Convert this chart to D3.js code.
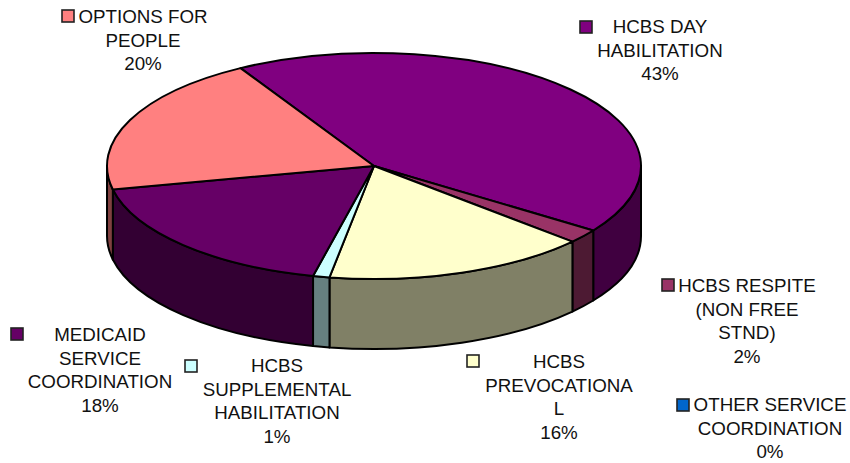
<!DOCTYPE html>
<html>
<head>
<meta charset="utf-8">
<script src="https://cdn.jsdelivr.net/npm/d3@7"></script>
<style>
  html, body { margin: 0; padding: 0; background: #fff; }
  text { font-family: "Liberation Sans", Arial, sans-serif; font-size: 18.75px; fill: #111; }
</style>
</head>
<body>
<div id="chart"></div>
<script>
var categories = ["HCBS DAY HABILITATION", "HCBS RESPITE (NON FREE STND)", "OTHER SERVICE COORDINATION",
  "HCBS PREVOCATIONAL", "HCBS SUPPLEMENTAL HABILITATION", "MEDICAID SERVICE COORDINATION", "OPTIONS FOR PEOPLE"];
var values = [43, 2, 0, 16, 1, 18, 20];
var topColors = ["#800080", "#993366", "#0066cc", "#ffffcc", "#ccffff", "#660066", "#ff8080"];
var sideColors = ["#400040", "#4d1a33", "#003366", "#808066", "#668080", "#330033", "#804040"];
// label text wrapped the way the chart wraps it
var labelLines = [
  ["HCBS DAY", "HABILITATION"],
  ["HCBS RESPITE", "(NON FREE", "STND)"],
  ["OTHER SERVICE", "COORDINATION"],
  ["HCBS", "PREVOCATIONA", "L"],
  ["HCBS", "SUPPLEMENTAL", "HABILITATION"],
  ["MEDICAID", "SERVICE", "COORDINATION"],
  ["OPTIONS FOR", "PEOPLE"]
];
// layout of labels: text centre, first baseline, swatch corner
var labelX = [660, 747, 770, 559, 277, 100, 143];
var labelY = [33, 292, 411, 368, 372, 341, 23];
var swatchX = [580, 662, 677, 467, 185, 11, 62];
var swatchY = [21, 279, 399, 355, 360, 328, 10];

var width = 850, height = 463;
var cx = 374, cy = 166, rx = 267, ry = 113, depth = 70;

var svg = d3.select("#chart").append("svg")
    .attr("width", width)
    .attr("height", height);

var pie = d3.pie()
    .value(function(d) { return d; })
    .sort(null)
    .startAngle(-30 * Math.PI / 180)
    .endAngle(330 * Math.PI / 180);

var arcs = pie(values);

function px(a) { return cx + rx * Math.sin(a); }
function py(a) { return cy - ry * Math.cos(a); }

// wall of a slice, only the part on the front of the pie
function sidePath(d) {
  var a0 = Math.max(d.startAngle, Math.PI / 2),
      a1 = Math.min(d.endAngle, Math.PI * 1.5);
  if (a1 <= a0) return null;
  var e = " " + rx + " " + ry + " 0 0 ";
  return "M" + px(a0) + "," + py(a0) +
    "A" + e + "1 " + px(a1) + "," + py(a1) +
    "L" + px(a1) + "," + (py(a1) + depth) +
    "A" + e + "0 " + px(a0) + "," + (py(a0) + depth) + "Z";
}

var sides = arcs.filter(function(d) { return sidePath(d) !== null; });

svg.append("g").selectAll("path")
    .data(sides)
  .enter().append("path")
    .attr("d", sidePath)
    .attr("fill", function(d) { return sideColors[d.index]; })
    .attr("stroke", "#000")
    .attr("stroke-width", 2)
    .attr("stroke-linejoin", "round");

var arc = d3.arc().innerRadius(0).outerRadius(rx);

svg.append("g")
    .attr("transform", "translate(" + cx + "," + cy + ") scale(1," + (ry / rx) + ")")
  .selectAll("path")
    .data(arcs.filter(function(d) { return d.value > 0; }))
  .enter().append("path")
    .attr("d", arc)
    .attr("fill", function(d) { return topColors[d.index]; })
    .attr("stroke", "#000")
    .attr("stroke-width", 2)
    .attr("stroke-linejoin", "round")
    .attr("vector-effect", "non-scaling-stroke");

var labels = svg.append("g").selectAll("g")
    .data(arcs)
  .enter().append("g");

labels.append("rect")
    .attr("x", function(d) { return swatchX[d.index]; })
    .attr("y", function(d) { return swatchY[d.index]; })
    .attr("width", 12)
    .attr("height", 12)
    .attr("fill", function(d) { return topColors[d.index]; })
    .attr("stroke", "#222")
    .attr("stroke-width", 1.6);

labels.append("text")
    .attr("text-anchor", "middle")
    .selectAll("tspan")
    .data(function(d) {
      return labelLines[d.index].concat([d.value + "%"]).map(function(t, i) {
        return { t: t, i: i, k: d.index };
      });
    })
  .enter().append("tspan")
    .attr("x", function(d) { return labelX[d.k]; })
    .attr("y", function(d) { return labelY[d.k] + d.i * 23.7; })
    .text(function(d) { return d.t; });
</script>
</body>
</html>
